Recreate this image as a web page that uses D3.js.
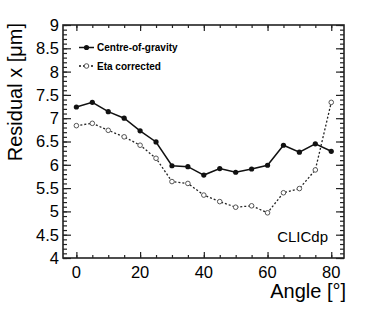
<!DOCTYPE html>
<html>
<head>
<meta charset="utf-8">
<script src="https://cdn.jsdelivr.net/npm/d3@7"></script>
<style>
  body { margin: 0; background: #fff; }
  svg { display: block; font-family: "Liberation Sans", Arial, sans-serif; }
</style>
</head>
<body>
<div id="chart"></div>
<script>
// Angles in degrees
const angles = [0, 5, 10, 15, 20, 25, 30, 35, 40, 45, 50, 55, 60, 65, 70, 75, 80];
// Residual x in um
const centreOfGravity = [7.24, 7.34, 7.14, 7.00, 6.73, 6.49, 5.98, 5.96, 5.78, 5.92, 5.84, 5.91, 5.99, 6.42, 6.27, 6.45, 6.29];
const etaCorrected = [6.84, 6.89, 6.74, 6.60, 6.42, 6.14, 5.64, 5.60, 5.35, 5.21, 5.09, 5.12, 4.97, 5.40, 5.49, 5.89, 7.34];

const xTicks = [0, 20, 40, 60, 80];
const yTicks = [4, 4.5, 5, 5.5, 6, 6.5, 7, 7.5, 8, 8.5, 9];

const width = 374, height = 316;
const margin = {top: 25, right: 30, bottom: 58, left: 63};
const innerWidth = width - margin.left - margin.right;
const innerHeight = height - margin.top - margin.bottom;

const svg = d3.select("#chart").append("svg")
    .attr("width", width)
    .attr("height", height);

const g = svg.append("g")
    .attr("transform", `translate(${margin.left}, ${margin.top})`);

const x = d3.scaleLinear().domain([-4.2, 84]).range([0, innerWidth]);
const y = d3.scaleLinear().domain([4, 9]).range([innerHeight, 0]);

// ROOT style ticks: major + minor, on all four sides
const xMinor = d3.range(0, 81, 5);
const yMinor = d3.range(40, 91, 1).map(v => v / 10);

function ticks(axis, values, size) {
    return axis.tickValues(values).tickSize(size).tickFormat("");
}

g.append("g").attr("transform", `translate(0, ${innerHeight})`)
    .call(ticks(d3.axisTop(x), xMinor, 3));
g.append("g").attr("transform", `translate(0, ${innerHeight})`)
    .call(ticks(d3.axisTop(x), xTicks, 6));
g.append("g").call(ticks(d3.axisBottom(x), xMinor, 3));
g.append("g").call(ticks(d3.axisBottom(x), xTicks, 6));

g.append("g").call(ticks(d3.axisRight(y), yMinor, 4));
g.append("g").call(ticks(d3.axisRight(y), yTicks, 8));
g.append("g").attr("transform", `translate(${innerWidth}, 0)`)
    .call(ticks(d3.axisLeft(y), yMinor, 4));
g.append("g").attr("transform", `translate(${innerWidth}, 0)`)
    .call(ticks(d3.axisLeft(y), yTicks, 8));

// only the tick marks are kept, labels are drawn separately
g.selectAll(".domain").remove();
g.selectAll(".tick text").remove();
g.selectAll(".tick line").attr("stroke", "#222").attr("stroke-width", 1.2);

// frame
g.append("rect")
    .attr("width", innerWidth)
    .attr("height", innerHeight)
    .attr("fill", "none")
    .attr("stroke", "#222")
    .attr("stroke-width", 1.6);

// tick labels
g.selectAll("text.xlab").data(xTicks).join("text")
    .attr("class", "xlab")
    .attr("x", d => x(d))
    .attr("y", innerHeight + 20)
    .attr("text-anchor", "middle")
    .attr("font-size", 16.5)
    .text(d => d);

g.selectAll("text.ylab").data(yTicks).join("text")
    .attr("class", "ylab")
    .attr("x", -4)
    .attr("y", d => y(d))
    .attr("dy", "0.36em")
    .attr("text-anchor", "end")
    .attr("font-size", 16.5)
    .text(d => d);

// axis titles
svg.append("text")
    .attr("x", margin.left + innerWidth + 2)
    .attr("y", 298)
    .attr("text-anchor", "end")
    .attr("font-size", 20)
    .text("Angle [°]");

svg.append("text")
    .attr("transform", `translate(22, ${margin.top - 2}) rotate(-90)`)
    .attr("text-anchor", "end")
    .attr("font-size", 20)
    .text("Residual x [μm]");

// series
const line = d3.line().x(d => x(d[0])).y(d => y(d[1]));

const cog = angles.map((a, i) => [a, centreOfGravity[i]]);
const eta = angles.map((a, i) => [a, etaCorrected[i]]);

g.append("path").datum(cog)
    .attr("d", line)
    .attr("fill", "none")
    .attr("stroke", "#111")
    .attr("stroke-width", 1.5);

g.append("path").datum(eta)
    .attr("d", line)
    .attr("fill", "none")
    .attr("stroke", "#222")
    .attr("stroke-width", 1.3)
    .attr("stroke-dasharray", "2,2");

g.selectAll("circle.cog").data(cog).join("circle")
    .attr("class", "cog")
    .attr("cx", d => x(d[0]))
    .attr("cy", d => y(d[1]))
    .attr("r", 2.6)
    .attr("fill", "#111");

g.selectAll("circle.eta").data(eta).join("circle")
    .attr("class", "eta")
    .attr("cx", d => x(d[0]))
    .attr("cy", d => y(d[1]))
    .attr("r", 2.3)
    .attr("fill", "#fff")
    .attr("stroke", "#555")
    .attr("stroke-width", 1);

// legend
const legend = svg.append("g");
const legendItems = [
    {label: "Centre-of-gravity", y: 47.5, dash: null, filled: true},
    {label: "Eta corrected", y: 66, dash: "2,2", filled: false}
];
legendItems.forEach(item => {
    legend.append("line")
        .attr("x1", 79).attr("x2", 94)
        .attr("y1", item.y).attr("y2", item.y)
        .attr("stroke", "#111")
        .attr("stroke-width", item.filled ? 1.5 : 1.3)
        .attr("stroke-dasharray", item.dash);
    legend.append("circle")
        .attr("cx", 86.5).attr("cy", item.y)
        .attr("r", item.filled ? 2.6 : 2.3)
        .attr("fill", item.filled ? "#111" : "#fff")
        .attr("stroke", item.filled ? "none" : "#555");
    legend.append("text")
        .attr("x", 97)
        .attr("y", item.y)
        .attr("dy", "0.36em")
        .attr("font-size", 10)
        .attr("font-weight", "bold")
        .text(item.label);
});

svg.append("text")
    .attr("x", 328)
    .attr("y", 242)
    .attr("text-anchor", "end")
    .attr("font-size", 15)
    .text("CLICdp");
</script>
</body>
</html>
